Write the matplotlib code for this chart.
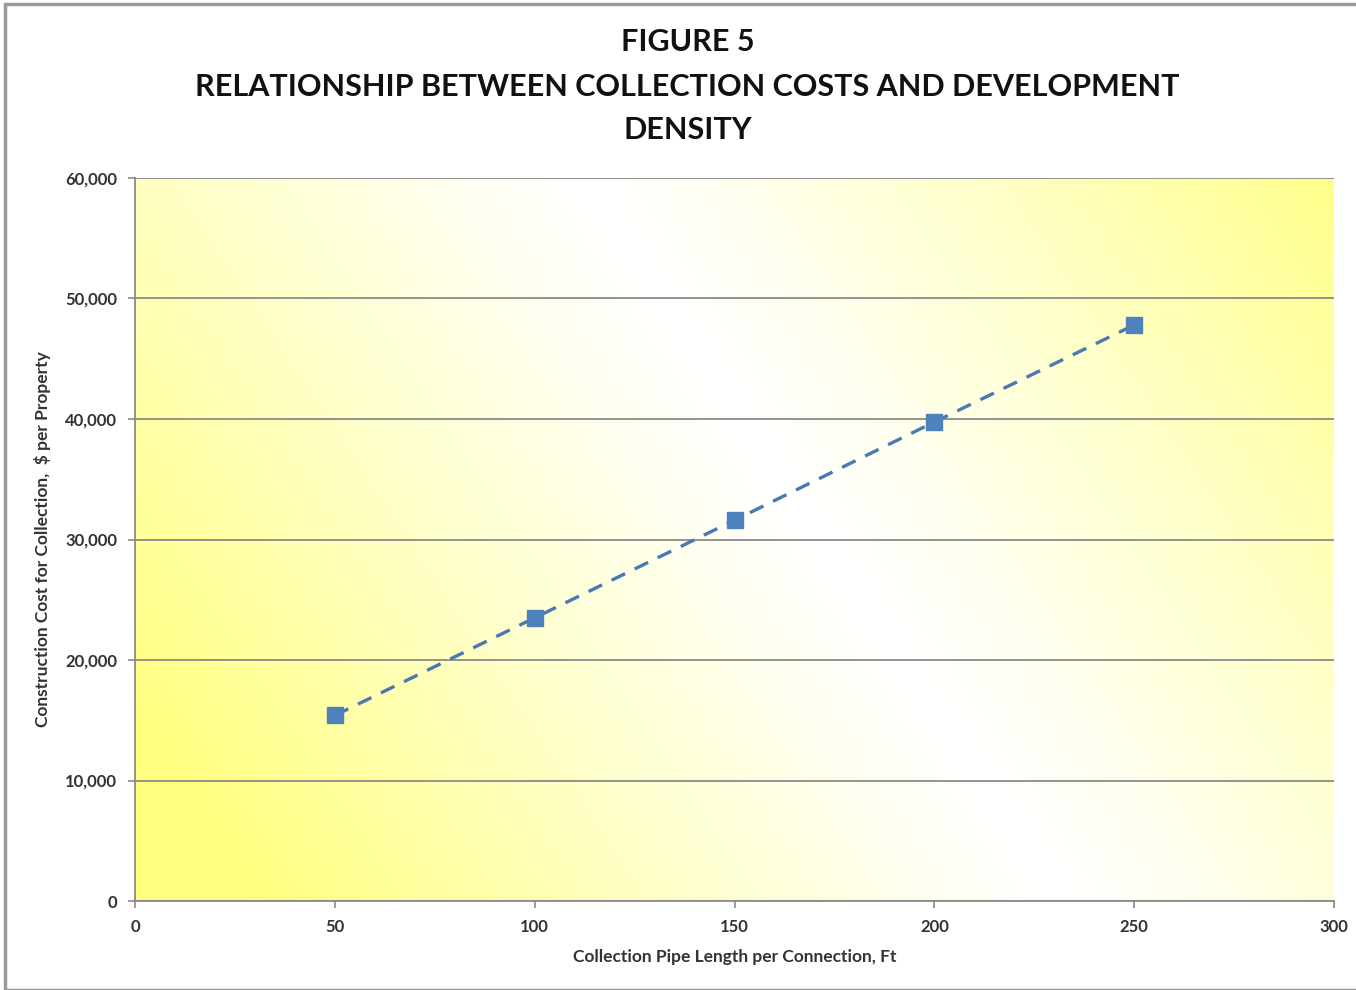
import numpy as np
import matplotlib.pyplot as plt
from matplotlib.patches import Rectangle
from matplotlib.ticker import FuncFormatter

# pipe length per connection (ft) vs construction cost per property ($)
pipe_length = [50, 100, 150, 200, 250]
cost = [15400, 23500, 31600, 39750, 47800]

x_ticks = [0, 50, 100, 150, 200, 250, 300]
y_ticks = [0, 10000, 20000, 30000, 40000, 50000, 60000]

plt.rcParams['font.family'] = ['Lato', 'DejaVu Sans']

fig = plt.figure(figsize=(13.56, 9.9), dpi=100)
ax = fig.add_axes([135 / 1356, 1 - 901 / 990, 1199 / 1356, 723 / 990])

# yellow-white-yellow background, white band running top-left to bottom-right
nx, ny = 300, 200
u = np.linspace(-1, 1, nx)
v = np.linspace(-1, 1, ny)
U, V = np.meshgrid(u, v)
d = U + 0.4 * V - 0.15
s = np.clip(np.abs(d) / 1.35, 0, 1) ** 1.2
yellow = np.array([1.0, 1.0, 0.5])
img = np.ones((ny, nx, 3)) * (1 - s[..., None]) + yellow * s[..., None]
ax.imshow(img, extent=[0, 300, 0, 60000], origin='lower', aspect='auto', zorder=0)

ax.set_xlim(0, 300)
ax.set_ylim(0, 60000)
ax.set_xticks(x_ticks)
ax.set_yticks(y_ticks)
ax.yaxis.set_major_formatter(FuncFormatter(lambda val, pos: f'{int(val):,}'))

ax.grid(axis='y', color='#8a8a8a', linewidth=1.3, zorder=1)
for side in ['top', 'right']:
    ax.spines[side].set_visible(False)
for side in ['left', 'bottom']:
    ax.spines[side].set_color('#8a8a8a')
    ax.spines[side].set_linewidth(1.3)
ax.tick_params(axis='both', colors='#8a8a8a', length=5, width=1.2,
               labelcolor='#333333', labelsize=12)
for lab in ax.get_xticklabels() + ax.get_yticklabels():
    lab.set_fontweight('bold')
ax.tick_params(axis='x', pad=8)
ax.tick_params(axis='y', pad=8)

ax.plot(pipe_length, cost, linestyle=(0, (4.5, 3.2)), color='#4a78b0', linewidth=2.4,
        marker='s', markersize=11, markerfacecolor='#4f81bd', markeredgecolor='#4f81bd',
        zorder=3)

ax.set_xlabel('Collection Pipe Length per Connection, Ft', fontsize=12.5,
              fontweight='bold', color='#333333', labelpad=10)
ax.set_ylabel('Construction Cost for Collection,  $ per Property', fontsize=12.5,
              fontweight='bold', color='#333333', labelpad=10)

fig.text(0.507, 1 - 42 / 990, 'FIGURE 5', ha='center', va='center',
         fontsize=22, fontweight='bold', color='#111111')
fig.text(0.507, 1 - 87 / 990, 'RELATIONSHIP BETWEEN COLLECTION COSTS AND DEVELOPMENT',
         ha='center', va='center', fontsize=22, fontweight='bold', color='#111111')
fig.text(0.507, 1 - 130 / 990, 'DENSITY', ha='center', va='center',
         fontsize=22, fontweight='bold', color='#111111')

# outer frame
fig.patches.append(Rectangle((5 / 1356, 0), 1, 1 - 4 / 990, transform=fig.transFigure,
                             fill=False, edgecolor='#9a9a9a', linewidth=2.5))

fig.savefig('out.png', dpi=100)
